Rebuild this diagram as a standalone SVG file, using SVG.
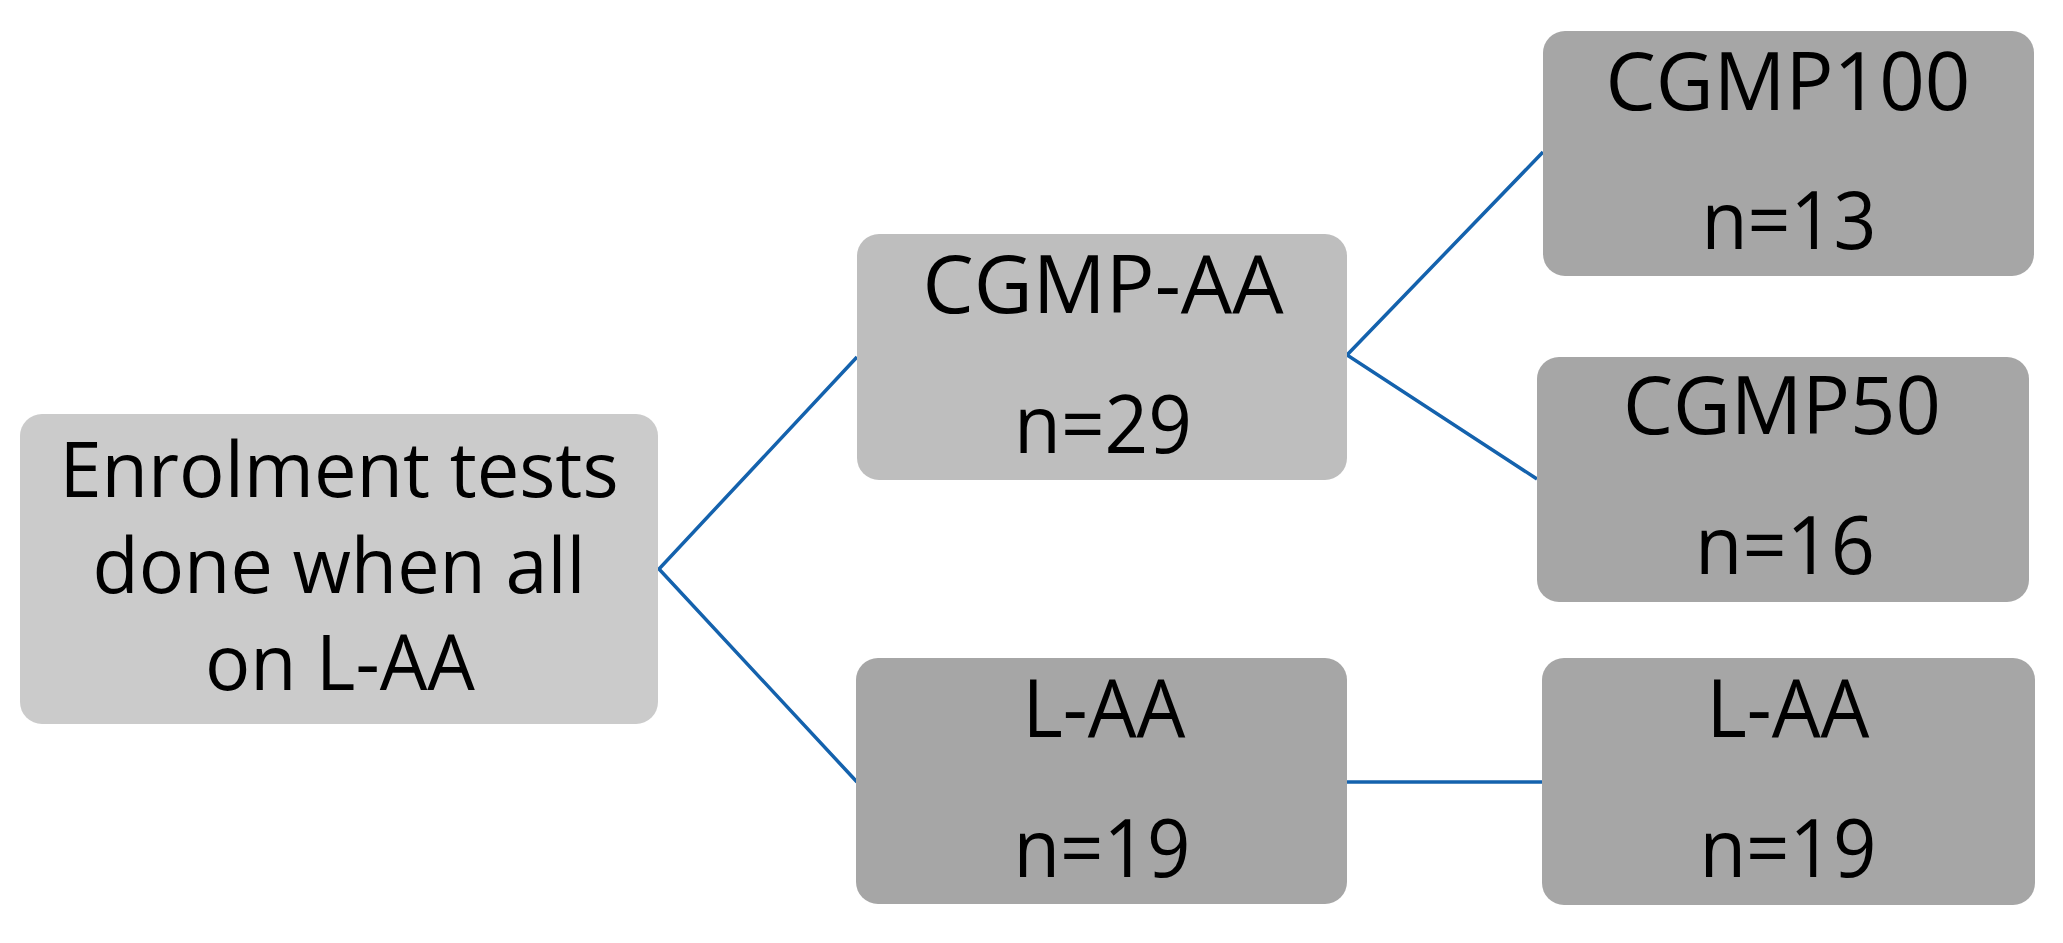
<svg xmlns="http://www.w3.org/2000/svg" width="2063" height="943" viewBox="0 0 2063 943">
<style>
.box{stroke:none}
.l1{fill:#cbcbcb}
.l2{fill:#bebebe}
.l3{fill:#a6a6a6}
text{font-family:"Open Sans","Liberation Sans",sans-serif;fill:#000;text-anchor:middle}
.t{font-size:81px}
.ts{font-size:77px}
.conn{stroke:#1462ad;stroke-width:3.5;fill:none;stroke-linejoin:miter}
</style>
<rect width="2063" height="943" fill="#fff"/>
<g id="connectors">
<polyline class="conn" points="857,357 659,569 857,782"/>
<polyline class="conn" points="1543,152 1347,355 1537,479"/>
<line class="conn" x1="1347" y1="782" x2="1542" y2="782"/>
</g>
<g id="node-enrolment">
<rect class="box l1" x="20" y="414" width="638" height="310" rx="22"/>
<text class="ts" x="339" y="497" textLength="559" lengthAdjust="spacingAndGlyphs">Enrolment tests</text>
<text class="ts" x="339" y="593" textLength="493" lengthAdjust="spacingAndGlyphs">done when all</text>
<text class="ts" x="340" y="690" textLength="270" lengthAdjust="spacingAndGlyphs">on L-AA</text>
</g>
<g id="node-cgmp-aa">
<rect class="box l2" x="857" y="234" width="490" height="246" rx="22"/>
<text class="t" x="1103" y="313" textLength="361" lengthAdjust="spacingAndGlyphs">CGMP-AA</text>
<text class="t" x="1103" y="453" textLength="178" lengthAdjust="spacingAndGlyphs">n=29</text>
</g>
<g id="node-laa-mid">
<rect class="box l3" x="856" y="658" width="491" height="246" rx="22"/>
<text class="t" x="1104" y="737" textLength="163" lengthAdjust="spacingAndGlyphs">L-AA</text>
<text class="t" x="1102" y="877" textLength="177" lengthAdjust="spacingAndGlyphs">n=19</text>
</g>
<g id="node-cgmp100">
<rect class="box l3" x="1543" y="31" width="491" height="245" rx="22"/>
<text class="t" x="1788" y="110" textLength="365" lengthAdjust="spacingAndGlyphs">CGMP100</text>
<text class="t" x="1789" y="249" textLength="175" lengthAdjust="spacingAndGlyphs">n=13</text>
</g>
<g id="node-cgmp50">
<rect class="box l3" x="1537" y="357" width="492" height="245" rx="22"/>
<text class="t" x="1782" y="434" textLength="318" lengthAdjust="spacingAndGlyphs">CGMP50</text>
<text class="t" x="1785" y="574" textLength="180" lengthAdjust="spacingAndGlyphs">n=16</text>
</g>
<g id="node-laa-right">
<rect class="box l3" x="1542" y="658" width="493" height="247" rx="22"/>
<text class="t" x="1788" y="737" textLength="163" lengthAdjust="spacingAndGlyphs">L-AA</text>
<text class="t" x="1788" y="877" textLength="177" lengthAdjust="spacingAndGlyphs">n=19</text>
</g>
</svg>
